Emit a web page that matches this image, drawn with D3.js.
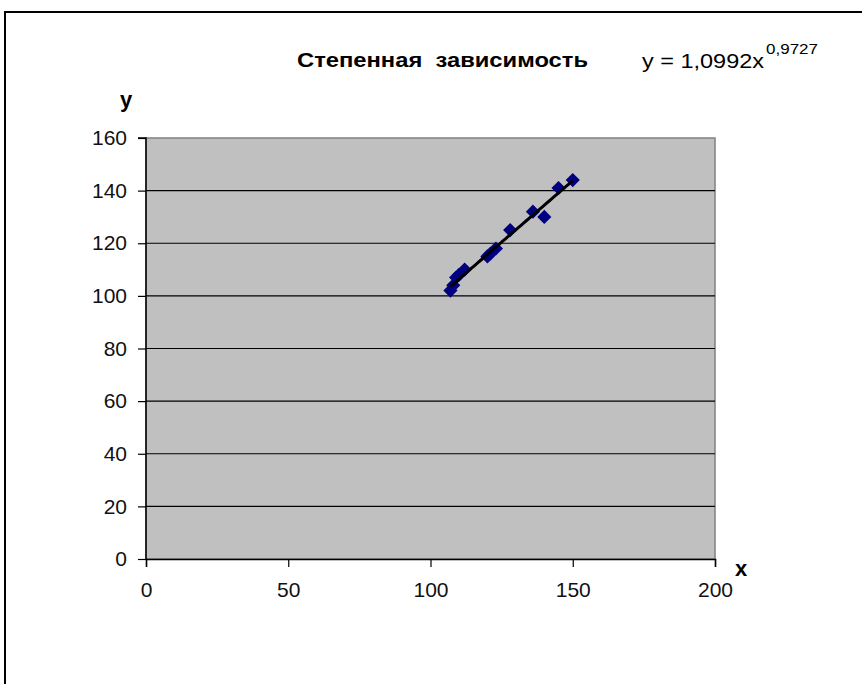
<!DOCTYPE html>
<html><head><meta charset="utf-8">
<script src="https://cdn.jsdelivr.net/npm/d3@7"></script>
<style>body{margin:0;background:#fff;}svg{display:block;font-family:"Liberation Sans",Arial,sans-serif;}</style>
</head><body>
<script>
const xValues = [107, 108, 109, 110, 112, 120, 121, 123, 128, 136, 140, 145, 150];
const yValues = [102, 104, 107, 108, 110, 115, 116, 118, 125, 132, 130, 141, 144];
const trendA = 1.0992, trendB = 0.9727;
const xTicks = [0, 50, 100, 150, 200];
const yTicks = [0, 20, 40, 60, 80, 100, 120, 140, 160];
const titleText = "Степенная  зависимость";

const W = 862, H = 684;
const svg = d3.select("body").append("svg").attr("width", W).attr("height", H);
// outer chart border
svg.append("rect").attr("x", 5).attr("y", 12).attr("width", 900).attr("height", 700)
  .attr("fill", "#fff").attr("stroke", "#000").attr("stroke-width", 2);

const L = 146, R = 715, T = 138, B = 559;
const x = d3.scaleLinear().domain([0, 200]).range([L, R]);
const y = d3.scaleLinear().domain([0, 160]).range([B, T]);

svg.append("rect").attr("x", L).attr("y", T).attr("width", R - L).attr("height", B - T)
  .attr("fill", "#c0c0c0").attr("stroke", "#808080").attr("stroke-width", 1.5);

// gridlines
svg.append("g").selectAll("line").data(yTicks.filter(d => d > 0 && d < 160)).join("line")
  .attr("x1", L).attr("x2", R).attr("y1", d => y(d)).attr("y2", d => y(d))
  .attr("stroke", "#000").attr("stroke-width", 1.2);

const yAxis = svg.append("g").attr("transform", `translate(${L},0)`)
  .call(d3.axisLeft(y).tickValues(yTicks).tickSize(8).tickPadding(11).tickFormat(d3.format("d")));
const xAxis = svg.append("g").attr("transform", `translate(0,${B})`)
  .call(d3.axisBottom(x).tickValues(xTicks).tickSize(8).tickPadding(15).tickFormat(d3.format("d")));
[yAxis, xAxis].forEach(g => {
  g.select(".domain").attr("stroke", "#000").attr("stroke-width", 1.5);
  g.selectAll(".tick line").attr("stroke", "#000").attr("stroke-width", 1.2);
  g.selectAll("text").attr("font-size", 21).attr("fill", "#111")
    .attr("font-family", "'Liberation Sans',Arial,sans-serif");
});
yAxis.select(".domain").attr("d", `M-8,${T}H0V${B}`);

// data points (diamonds)
const pts = xValues.map((v, i) => [v, yValues[i]]);
svg.append("g").selectAll("path").data(pts).join("path")
  .attr("d", d3.symbol().type(d3.symbolSquare).size(100))
  .attr("transform", d => `translate(${x(d[0])},${y(d[1])}) rotate(45)`)
  .attr("fill", "#000080");

// power trendline
const xmin = d3.min(xValues), xmax = d3.max(xValues);
const trend = d3.range(0, 41).map(i => {
  const xv = xmin + (xmax - xmin) * i / 40;
  return [xv, trendA * Math.pow(xv, trendB)];
});
svg.append("path").datum(trend)
  .attr("d", d3.line().x(d => x(d[0])).y(d => y(d[1])))
  .attr("fill", "none").attr("stroke", "#000").attr("stroke-width", 3);

// title and equation
svg.append("text").attr("x", 297).attr("y", 67).attr("font-size", 20).attr("font-weight", "bold")
  .attr("fill", "#000").attr("textLength", 291).attr("lengthAdjust", "spacingAndGlyphs")
  .style("white-space", "pre").text(titleText);
svg.append("text").attr("x", 642).attr("y", 68).attr("font-size", 21).attr("fill", "#000")
  .attr("textLength", 122).attr("lengthAdjust", "spacingAndGlyphs").text("y = 1,0992x");
svg.append("text").attr("x", 766).attr("y", 54).attr("font-size", 15).attr("fill", "#000")
  .attr("textLength", 52).attr("lengthAdjust", "spacingAndGlyphs").text("0,9727");

// axis titles
svg.append("text").attr("x", 120).attr("y", 107).attr("font-size", 22).attr("font-weight", "bold").text("y");
svg.append("text").attr("x", 735).attr("y", 576).attr("font-size", 22).attr("font-weight", "bold").text("x");
</script>
</body></html>
